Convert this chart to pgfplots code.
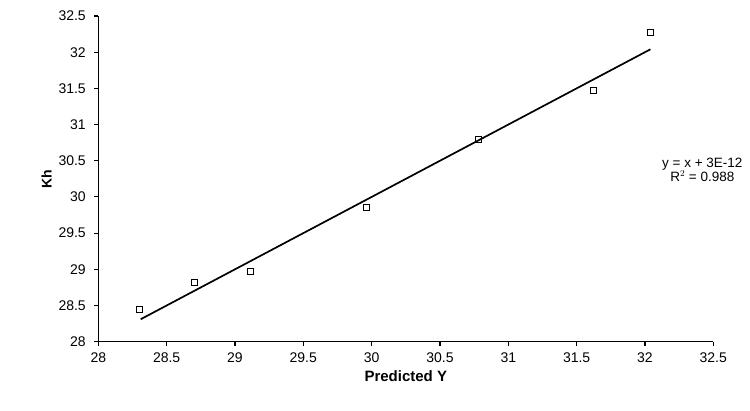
\documentclass[border=0pt]{standalone}
\usepackage{fontspec}
\setmainfont{Liberation Sans}
\usepackage{pgfplots}
\pgfplotsset{compat=1.18}
\begin{document}
\begin{tikzpicture}[x=1pt,y=1pt]
\useasboundingbox (0,0) rectangle (750,410);
\begin{axis}[
  at={(98.3pt,68.3pt)}, anchor=south west,
  scale only axis, width=615pt, height=325.7pt,
  xmin=28, xmax=32.5, ymin=28, ymax=32.5,
  xtick={28,28.5,...,32.5}, ytick={28,28.5,...,32.5},
  axis x line*=bottom, axis y line*=left,
  axis line style={black, line width=1.3pt},
  tick style={black, line width=1.1pt},
  tick align=outside, major tick length=4pt,
  minor tick num=0,
  /pgf/number format/assume math mode=true,
  /pgf/number format/fixed,
  ticklabel style={font=\fontsize{14}{16}\selectfont, text=black},
  xticklabel style={yshift=-3pt},
  yticklabel style={xshift=-5pt},
  xlabel={\textbf{Predicted Y}}, ylabel={\textbf{Kh}},
  xlabel style={font=\fontsize{15}{17}\selectfont, yshift=-2pt},
  ylabel style={font=\fontsize{14}{16}\selectfont, yshift=0pt},
  clip=false,
]
\addplot[only marks, mark=square, mark size=3pt, mark options={black, line width=0.9pt}]
  coordinates {(28.30,28.44) (28.70,28.82) (29.11,28.97) (29.96,29.85) (30.78,30.79) (31.62,31.47) (32.04,32.27)};
\addplot[black, line width=1.7pt] coordinates {(28.31,28.31) (32.04,32.04)};
\node[align=center, font=\fontsize{13.5}{14}\selectfont, inner sep=0pt] at (axis cs:32.42,30.37) {y = x + 3E-12\\R$^2$ = 0.988};
\end{axis}
\end{tikzpicture}
\end{document}
